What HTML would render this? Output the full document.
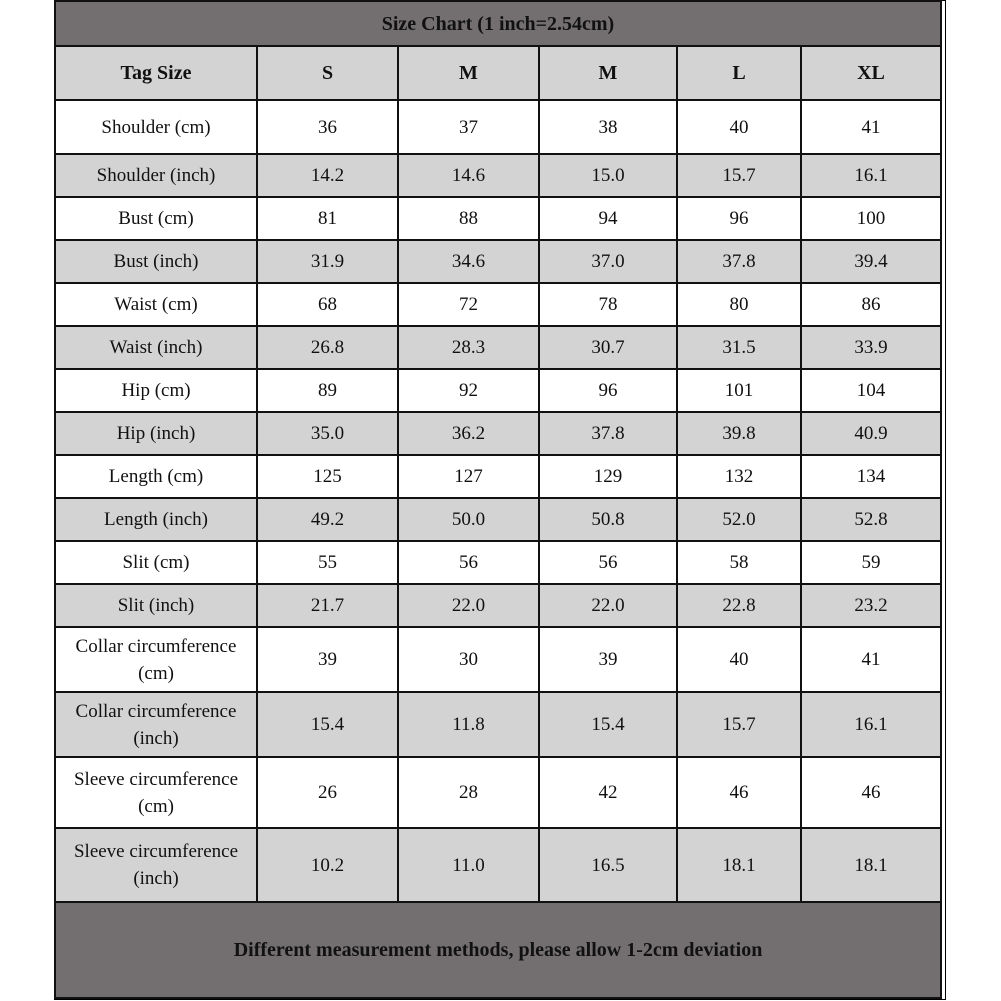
<!DOCTYPE html>
<html><head><meta charset="utf-8"><style>
html,body{margin:0;padding:0;background:#fff;width:1001px;height:1001px;overflow:hidden}
.outer{position:absolute;left:54px;top:0;width:890px;height:998px;border:1px solid #000}
table{position:absolute;left:54px;top:0px;border-collapse:collapse;table-layout:fixed;font-family:"Liberation Serif","Times New Roman",serif;font-size:19px;color:#111}
td{border:2px solid #111;text-align:center;padding:0;line-height:27px}
.t td{background:#736f70;font-weight:bold;font-size:20px;padding-top:2px}
.h td{background:#d3d3d3;font-weight:bold;font-size:20px}
.g td{background:#d3d3d3}
.w td{background:#fff}
.f td{background:#736f70;font-weight:bold;font-size:20px;padding-top:0px}
</style></head><body>
<div class="outer"></div>
<table>
<colgroup><col style="width:202px"><col style="width:141px"><col style="width:141px"><col style="width:138px"><col style="width:124px"><col style="width:140px"></colgroup>
<tr class="t" style="height:45px"><td colspan="6">Size Chart (1 inch=2.54cm)</td></tr>
<tr class="h" style="height:54px"><td>Tag Size</td><td>S</td><td>M</td><td>M</td><td>L</td><td>XL</td></tr>
<tr class="w" style="height:54px"><td>Shoulder (cm)</td><td>36</td><td>37</td><td>38</td><td>40</td><td>41</td></tr>
<tr class="g" style="height:43px"><td>Shoulder (inch)</td><td>14.2</td><td>14.6</td><td>15.0</td><td>15.7</td><td>16.1</td></tr>
<tr class="w" style="height:43px"><td>Bust (cm)</td><td>81</td><td>88</td><td>94</td><td>96</td><td>100</td></tr>
<tr class="g" style="height:43px"><td>Bust (inch)</td><td>31.9</td><td>34.6</td><td>37.0</td><td>37.8</td><td>39.4</td></tr>
<tr class="w" style="height:43px"><td>Waist (cm)</td><td>68</td><td>72</td><td>78</td><td>80</td><td>86</td></tr>
<tr class="g" style="height:43px"><td>Waist (inch)</td><td>26.8</td><td>28.3</td><td>30.7</td><td>31.5</td><td>33.9</td></tr>
<tr class="w" style="height:43px"><td>Hip (cm)</td><td>89</td><td>92</td><td>96</td><td>101</td><td>104</td></tr>
<tr class="g" style="height:43px"><td>Hip (inch)</td><td>35.0</td><td>36.2</td><td>37.8</td><td>39.8</td><td>40.9</td></tr>
<tr class="w" style="height:43px"><td>Length (cm)</td><td>125</td><td>127</td><td>129</td><td>132</td><td>134</td></tr>
<tr class="g" style="height:43px"><td>Length (inch)</td><td>49.2</td><td>50.0</td><td>50.8</td><td>52.0</td><td>52.8</td></tr>
<tr class="w" style="height:43px"><td>Slit (cm)</td><td>55</td><td>56</td><td>56</td><td>58</td><td>59</td></tr>
<tr class="g" style="height:43px"><td>Slit (inch)</td><td>21.7</td><td>22.0</td><td>22.0</td><td>22.8</td><td>23.2</td></tr>
<tr class="w" style="height:65px"><td>Collar circumference<br>(cm)</td><td>39</td><td>30</td><td>39</td><td>40</td><td>41</td></tr>
<tr class="g" style="height:65px"><td>Collar circumference<br>(inch)</td><td>15.4</td><td>11.8</td><td>15.4</td><td>15.7</td><td>16.1</td></tr>
<tr class="w" style="height:71px"><td>Sleeve circumference<br>(cm)</td><td>26</td><td>28</td><td>42</td><td>46</td><td>46</td></tr>
<tr class="g" style="height:74px"><td>Sleeve circumference<br>(inch)</td><td>10.2</td><td>11.0</td><td>16.5</td><td>18.1</td><td>18.1</td></tr>
<tr class="f" style="height:96px"><td colspan="6">Different measurement methods, please allow 1-2cm deviation</td></tr>
</table>
</body></html>
